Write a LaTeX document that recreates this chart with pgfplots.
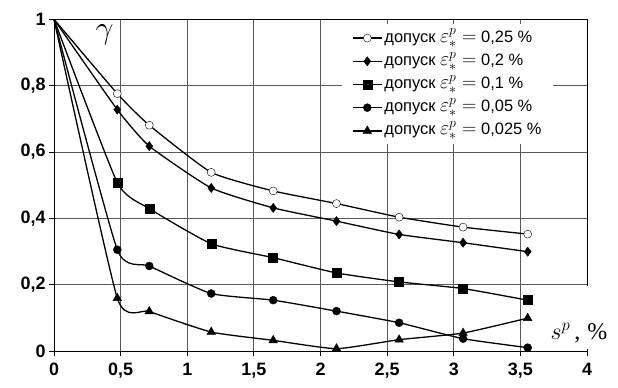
\RequirePackage{fix-cm}
\documentclass[border=0pt]{standalone}
\usepackage{fontspec}
\setmainfont{Liberation Sans}
\newfontfamily\seriffont{Liberation Serif}
\usepackage{pgfplots}
\pgfplotsset{compat=1.18}
\newcommand{\eps}{{\fontsize{20}{20}\selectfont$\varepsilon^{p}_{*} =$}}
\begin{document}
\begin{tikzpicture}
\begin{axis}[
  scale only axis, width=533bp, height=332bp,
  xmin=0, xmax=4, ymin=0, ymax=1,
  xtick={0,0.5,1,1.5,2,2.5,3,3.5,4},
  ytick={0,0.2,0.4,0.6,0.8,1},
  grid=major,
  major grid style={black!65, line width=0.8bp},
  axis line style={black, line width=0.9bp},
  tick pos=left, tick align=outside, major tick length=5bp,
  tick style={black, line width=0.8bp},
  /pgf/number format/use comma,
  /pgf/number format/assume math mode=true,
  ticklabel style={font=\bfseries\fontsize{18}{18}\selectfont},
  xticklabel style={yshift=-3bp},
  clip=false,
  legend image code/.code={\draw[black, line width=1.3bp] (0bp,0bp) -- (29bp,0bp); \draw[#1] plot coordinates {(14.5bp,0bp)};},
  legend style={at={(axis cs:2.161,0.985)}, anchor=north west, draw=none, fill=white,
    font=\fontsize{16.5}{16.5}\selectfont, inner xsep=10bp, inner ysep=2bp, row sep=0bp,
    nodes={text height=12.5bp, text depth=4.5bp, inner ysep=3.1bp, inner xsep=2bp}},
  legend cell align=left,
  curve/.style={black, line width=1.3bp, smooth, tension=0.3, mark=none, forget plot},
  pts/.style={black, only marks, mark options={solid, line width=0.9bp}},
]
% 0.25 %
\addplot[curve] coordinates {(0,1) (0.475,0.776) (0.715,0.681) (1.18,0.539) (1.645,0.483) (2.12,0.445) (2.59,0.404) (3.07,0.374) (3.555,0.353)};
\addplot[pts, mark=*, mark size=4bp, mark options={fill=white, draw=black}]
  coordinates {(0.475,0.776) (0.715,0.681) (1.18,0.539) (1.645,0.483) (2.12,0.445) (2.59,0.404) (3.07,0.374) (3.555,0.353)};
\addlegendentry{допуск \eps\ 0,25 \%}
% 0.2 %
\addplot[curve] coordinates {(0,1) (0.475,0.728) (0.715,0.618) (1.18,0.492) (1.645,0.432) (2.12,0.392) (2.59,0.352) (3.07,0.327) (3.555,0.300)};
\addplot[pts, mark=diamond*, mark size=4.6bp, mark options={fill=black}]
  coordinates {(0.475,0.728) (0.715,0.618) (1.18,0.492) (1.645,0.432) (2.12,0.392) (2.59,0.352) (3.07,0.327) (3.555,0.300)};
\addlegendentry{допуск \eps\ 0,2 \%}
% 0.1 %
\addplot[curve] coordinates {(0,1) (0.475,0.508) (0.715,0.430) (1.18,0.324) (1.645,0.282) (2.12,0.236) (2.59,0.209) (3.07,0.189) (3.555,0.154)};
\addplot[pts, mark=square*, mark size=4.5bp, mark options={fill=black}]
  coordinates {(0.475,0.508) (0.715,0.430) (1.18,0.324) (1.645,0.282) (2.12,0.236) (2.59,0.209) (3.07,0.189) (3.555,0.154)};
\addlegendentry{допуск \eps\ 0,1 \%}
% 0.05 %
\addplot[curve] coordinates {(0,1) (0.475,0.306) (0.715,0.257) (1.18,0.174) (1.645,0.154) (2.12,0.121) (2.59,0.086) (3.07,0.038) (3.555,0.011)};
\addplot[pts, mark=*, mark size=4bp, mark options={fill=black}]
  coordinates {(0.475,0.306) (0.715,0.257) (1.18,0.174) (1.645,0.154) (2.12,0.121) (2.59,0.086) (3.07,0.038) (3.555,0.011)};
\addlegendentry{допуск \eps\ 0,05 \%}
% 0.025 %
\addplot[curve] coordinates {(0,1) (0.475,0.160) (0.715,0.120) (1.18,0.058) (1.645,0.033) (2.12,0.008) (2.59,0.035) (3.07,0.055) (3.555,0.100)};
\addplot[pts, mark=triangle*, mark size=5bp, mark options={fill=black}]
  coordinates {(0.475,0.160) (0.715,0.120) (1.18,0.058) (1.645,0.033) (2.12,0.008) (2.59,0.035) (3.07,0.055) (3.555,0.100)};
\addlegendentry{допуск \eps\ 0,025 \%}
\node[fill=white, minimum width=77bp, minimum height=63bp, inner sep=0pt] at (axis cs:3.936,0.101) {};
\node[font=\seriffont\fontsize{24}{24}\selectfont, inner sep=0pt] at (axis cs:3.94,0.055) {$s^{p}$\,,\hspace{7bp}\%};
\node[font=\fontsize{32}{32}\selectfont, inner sep=0pt] at (axis cs:0.38,0.952) {$\gamma$};
\end{axis}
\pgfresetboundingbox
\path[use as bounding box] ([shift={(-54bp,-36bp)}]current axis.south west) rectangle ([shift={(31bp,19.3bp)}]current axis.north east);
\end{tikzpicture}
\end{document}
